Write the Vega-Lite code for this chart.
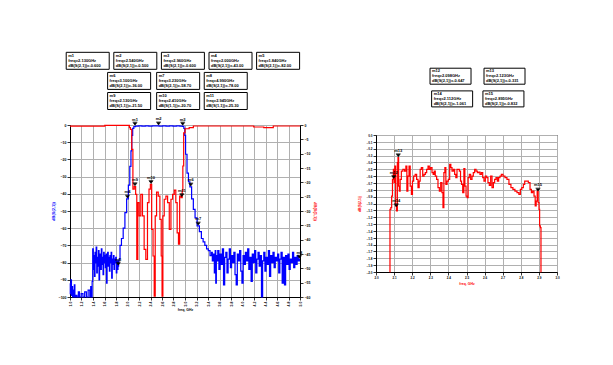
{
  "$schema": "https://vega.github.io/schema/vega-lite/v6.json",
  "background": "white",
  "padding": {"left": 50, "top": 50, "right": 5, "bottom": 5},
  "bounds": "flush",
  "spacing": 306,
  "config": {
    "font": "Liberation Sans",
    "view": {"stroke": "black", "strokeWidth": 1},
    "axis": {
      "gridColor": "#b0b0b0", "gridOpacity": 1, "gridWidth": 1,
      "domainColor": "black", "domainWidth": 1,
      "tickColor": "black", "tickWidth": 0.8, "tickSize": 3,
      "labelColor": "black", "labelFontSize": 3.5, "labelFontWeight": "bold", "labelPadding": 1,
      "labelOverlap": false, "labelFlush": false, "labelBound": false,
      "titleFontSize": 3.5, "titleFontWeight": "bold", "titleColor": "black"
    }
  },
  "datasets": {
    "s21": [
      {"f":1.00,"v":-92},{"f":1.01,"v":-98},{"f":1.02,"v":-90},{"f":1.03,"v":-99},{"f":1.04,"v":-94},{"f":1.05,"v":-100},{"f":1.06,"v":-96},{"f":1.07,"v":-100},{"f":1.08,"v":-93},{"f":1.09,"v":-100},{"f":1.11,"v":-99},{"f":1.13,"v":-100},{"f":1.16,"v":-97},{"f":1.17,"v":-100},{"f":1.22,"v":-98},{"f":1.23,"v":-100},{"f":1.28,"v":-97},{"f":1.29,"v":-100},{"f":1.34,"v":-96},{"f":1.35,"v":-100},{"f":1.37,"v":-94},{"f":1.38,"v":-100},{"f":1.39,"v":-91},
      {"f":1.40,"v":-72},{"f":1.41,"v":-84},{"f":1.42,"v":-76},{"f":1.43,"v":-88},{"f":1.44,"v":-74},{"f":1.45,"v":-80},{"f":1.46,"v":-71},{"f":1.47,"v":-86},{"f":1.48,"v":-77},{"f":1.49,"v":-82},{"f":1.50,"v":-73},{"f":1.51,"v":-90},{"f":1.52,"v":-79},{"f":1.53,"v":-75},{"f":1.54,"v":-84},{"f":1.55,"v":-72},{"f":1.56,"v":-81},{"f":1.57,"v":-77},{"f":1.58,"v":-87},{"f":1.59,"v":-74},{"f":1.60,"v":-80},{"f":1.61,"v":-76},{"f":1.62,"v":-83},{"f":1.63,"v":-75},{"f":1.64,"v":-92},{"f":1.65,"v":-78},{"f":1.66,"v":-74},{"f":1.67,"v":-82},{"f":1.68,"v":-77},{"f":1.69,"v":-85},{"f":1.70,"v":-76},{"f":1.71,"v":-80},{"f":1.72,"v":-74},{"f":1.73,"v":-89},{"f":1.74,"v":-78},{"f":1.75,"v":-81},{"f":1.76,"v":-76},{"f":1.77,"v":-84},{"f":1.78,"v":-78},{"f":1.79,"v":-80},{"f":1.80,"v":-77},{"f":1.81,"v":-86},{"f":1.82,"v":-79},{"f":1.83,"v":-84},{"f":1.84,"v":-82},{"f":1.85,"v":-79},
      {"f":1.86,"v":-78},{"f":1.88,"v":-70},{"f":1.91,"v":-66},{"f":1.94,"v":-60},{"f":1.97,"v":-51},{"f":2.00,"v":-43},{"f":2.03,"v":-35},{"f":2.05,"v":-24},{"f":2.07,"v":-15},{"f":2.08,"v":-6},{"f":2.10,"v":-2},{"f":2.12,"v":-0.9},
      {"f":2.16,"v":-0.6},{"f":2.22,"v":-0.5},{"f":2.28,"v":-0.6},{"f":2.34,"v":-0.5},{"f":2.40,"v":-0.6},{"f":2.46,"v":-0.5},{"f":2.52,"v":-0.5},{"f":2.58,"v":-0.6},{"f":2.64,"v":-0.5},{"f":2.70,"v":-0.6},{"f":2.76,"v":-0.5},{"f":2.82,"v":-0.6},{"f":2.88,"v":-0.5},{"f":2.94,"v":-0.6},{"f":2.97,"v":-0.8},
      {"f":2.99,"v":-2},{"f":3.00,"v":-6},{"f":3.02,"v":-17},{"f":3.05,"v":-28},{"f":3.07,"v":-33},{"f":3.10,"v":-36},{"f":3.13,"v":-43},{"f":3.16,"v":-49},{"f":3.19,"v":-54},{"f":3.23,"v":-58.7},{"f":3.27,"v":-62},{"f":3.30,"v":-66},{"f":3.33,"v":-68},{"f":3.36,"v":-70},{"f":3.39,"v":-72},{"f":3.42,"v":-73},{"f":3.45,"v":-76},{"f":3.47,"v":-74},{"f":3.48,"v":-79},{"f":3.50,"v":-75},{"f":3.52,"v":-86},{"f":3.53,"v":-73},{"f":3.54,"v":-92},{"f":3.55,"v":-76},
      {"f":3.56,"v":-79},{"f":3.58,"v":-73},{"f":3.60,"v":-84},{"f":3.62,"v":-75},{"f":3.64,"v":-81},{"f":3.66,"v":-72},{"f":3.68,"v":-93},{"f":3.70,"v":-77},{"f":3.72,"v":-74},{"f":3.74,"v":-86},{"f":3.76,"v":-78},{"f":3.78,"v":-72},{"f":3.80,"v":-83},{"f":3.82,"v":-76},{"f":3.84,"v":-80},{"f":3.86,"v":-74},{"f":3.88,"v":-87},{"f":3.90,"v":-93},{"f":3.92,"v":-75},{"f":3.94,"v":-79},{"f":3.96,"v":-73},{"f":3.98,"v":-85},{"f":4.00,"v":-92},{"f":4.02,"v":-76},{"f":4.04,"v":-81},{"f":4.06,"v":-74},{"f":4.08,"v":-79},{"f":4.10,"v":-72},{"f":4.12,"v":-84},{"f":4.14,"v":-77},{"f":4.16,"v":-91},{"f":4.18,"v":-75},{"f":4.20,"v":-80},{"f":4.22,"v":-73},{"f":4.24,"v":-86},{"f":4.26,"v":-78},{"f":4.28,"v":-74},{"f":4.30,"v":-82},{"f":4.32,"v":-76},{"f":4.34,"v":-100},{"f":4.36,"v":-79},{"f":4.38,"v":-74},{"f":4.40,"v":-85},{"f":4.42,"v":-77},{"f":4.44,"v":-81},{"f":4.46,"v":-73},{"f":4.48,"v":-88},{"f":4.50,"v":-76},{"f":4.52,"v":-80},{"f":4.54,"v":-74},{"f":4.56,"v":-83},{"f":4.58,"v":-77},{"f":4.60,"v":-79},{"f":4.62,"v":-75},{"f":4.64,"v":-86},{"f":4.66,"v":-78},{"f":4.68,"v":-74},{"f":4.70,"v":-92},{"f":4.72,"v":-77},{"f":4.74,"v":-93},{"f":4.76,"v":-76},{"f":4.78,"v":-81},{"f":4.80,"v":-75},{"f":4.82,"v":-84},{"f":4.84,"v":-78},{"f":4.86,"v":-80},{"f":4.88,"v":-74},{"f":4.90,"v":-83},{"f":4.92,"v":-77},{"f":4.94,"v":-81},{"f":4.96,"v":-76},{"f":4.98,"v":-79},{"f":5.00,"v":-78}
    ],
    "s11": [
      {"f":1.0,"v":-0.4},{"f":1.6,"v":-0.4},{"f":1.61,"v":-0.1},{"f":2.03,"v":-0.1},{"f":2.036,"v":-0.9},{"f":2.065,"v":-1.5},{"f":2.082,"v":-8.5},{"f":2.106,"v":-22.4},{"f":2.13,"v":-21.5},{"f":2.153,"v":-24.2},{"f":2.17,"v":-46.9},{"f":2.188,"v":-27.1},{"f":2.217,"v":-31.7},{"f":2.246,"v":-24.2},{"f":2.275,"v":-31.7},{"f":2.304,"v":-43.4},{"f":2.333,"v":-46.9},{"f":2.362,"v":-27.1},{"f":2.386,"v":-22.4},{"f":2.409,"v":-20.7},{"f":2.432,"v":-36.4},{"f":2.456,"v":-45.7},{"f":2.473,"v":-59.7},{"f":2.491,"v":-31.7},{"f":2.52,"v":-23.4},{"f":2.549,"v":-24.8},{"f":2.578,"v":-32.9},{"f":2.595,"v":-45.7},{"f":2.607,"v":-59.7},{"f":2.624,"v":-31.7},{"f":2.653,"v":-25.9},{"f":2.683,"v":-24.8},{"f":2.712,"v":-27.1},{"f":2.741,"v":-36.4},{"f":2.77,"v":-25.9},{"f":2.799,"v":-24.2},{"f":2.828,"v":-22.7},{"f":2.852,"v":-27.1},{"f":2.875,"v":-37.6},{"f":2.898,"v":-41.6},{"f":2.916,"v":-24.8},{"f":2.945,"v":-25.3},{"f":2.957,"v":-23.0},{"f":2.968,"v":-14.3},{"f":2.986,"v":-2.7},{"f":3.015,"v":-1.3},{"f":3.13,"v":-0.9},{"f":3.16,"v":-0.35},{"f":4.18,"v":-0.35},{"f":4.21,"v":-0.7},{"f":4.53,"v":-0.9},{"f":4.54,"v":-0.35},{"f":5.0,"v":-0.35}
    ],
    "mk21": [
      {"m":"m1","f":2.13,"v":-0.6},{"m":"m2","f":2.54,"v":-0.5},{"m":"m3","f":2.96,"v":-0.6},{"m":"m4","f":2.0,"v":-43},{"m":"m5","f":1.84,"v":-82},{"m":"m6","f":3.10,"v":-36},{"m":"m7","f":3.23,"v":-58.7},{"m":"m8","f":4.99,"v":-78}
    ],
    "mk11": [
      {"m":"m9","f":2.13,"v":-21.5},{"m":"m10","f":2.409,"v":-20.7},{"m":"m11","f":2.945,"v":-25.3}
    ],
    "s21z": [
      {"f":2.0755,"v":-2.0},{"f":2.079,"v":-1.085},{"f":2.085,"v":-1.061},{"f":2.088,"v":-0.891},{"f":2.094,"v":-0.647},{"f":2.098,"v":-0.501},{"f":2.101,"v":-0.696},{"f":2.107,"v":-0.453},{"f":2.110,"v":-1.036},{"f":2.116,"v":-1.109},{"f":2.120,"v":-0.404},{"f":2.123,"v":-0.331},{"f":2.127,"v":-0.745},{"f":2.131,"v":-0.818},{"f":2.136,"v":-0.647},{"f":2.144,"v":-0.526},{"f":2.153,"v":-0.501},{"f":2.162,"v":-0.526},{"f":2.168,"v":-0.453},{"f":2.173,"v":-0.818},{"f":2.179,"v":-0.599},{"f":2.186,"v":-0.453},{"f":2.192,"v":-0.745},{"f":2.199,"v":-0.866},{"f":2.204,"v":-0.672},{"f":2.212,"v":-0.599},{"f":2.221,"v":-0.574},{"f":2.228,"v":-0.647},{"f":2.236,"v":-0.769},{"f":2.241,"v":-0.672},{"f":2.247,"v":-0.501},{"f":2.254,"v":-0.477},{"f":2.262,"v":-0.599},{"f":2.269,"v":-0.574},{"f":2.276,"v":-0.550},{"f":2.284,"v":-0.501},{"f":2.291,"v":-0.453},{"f":2.298,"v":-0.501},{"f":2.306,"v":-0.477},{"f":2.313,"v":-0.550},{"f":2.319,"v":-0.574},{"f":2.324,"v":-0.526},{"f":2.331,"v":-0.599},{"f":2.339,"v":-0.647},{"f":2.346,"v":-0.769},{"f":2.354,"v":-0.818},{"f":2.361,"v":-0.696},{"f":2.368,"v":-0.842},{"f":2.372,"v":-1.061},{"f":2.378,"v":-0.550},{"f":2.383,"v":-0.477},{"f":2.389,"v":-0.720},{"f":2.396,"v":-0.672},{"f":2.403,"v":-0.647},{"f":2.411,"v":-0.428},{"f":2.416,"v":-0.477},{"f":2.424,"v":-0.526},{"f":2.431,"v":-0.501},{"f":2.438,"v":-0.574},{"f":2.444,"v":-0.623},{"f":2.451,"v":-0.501},{"f":2.457,"v":-0.501},{"f":2.464,"v":-0.526},{"f":2.470,"v":-0.672},{"f":2.475,"v":-0.720},{"f":2.483,"v":-0.842},{"f":2.488,"v":-0.491},{"f":2.494,"v":-0.745},{"f":2.501,"v":-0.891},{"f":2.506,"v":-0.915},{"f":2.512,"v":-0.623},{"f":2.519,"v":-0.574},{"f":2.527,"v":-0.647},{"f":2.534,"v":-0.599},{"f":2.541,"v":-0.550},{"f":2.549,"v":-0.501},{"f":2.556,"v":-0.526},{"f":2.564,"v":-0.550},{"f":2.571,"v":-0.540},{"f":2.578,"v":-0.574},{"f":2.586,"v":-0.550},{"f":2.593,"v":-0.623},{"f":2.600,"v":-0.672},{"f":2.608,"v":-0.599},{"f":2.615,"v":-0.623},{"f":2.622,"v":-0.696},{"f":2.630,"v":-0.735},{"f":2.637,"v":-0.599},{"f":2.645,"v":-0.769},{"f":2.652,"v":-0.696},{"f":2.659,"v":-0.647},{"f":2.667,"v":-0.623},{"f":2.674,"v":-0.672},{"f":2.681,"v":-0.623},{"f":2.689,"v":-0.599},{"f":2.696,"v":-0.574},{"f":2.707,"v":-0.599},{"f":2.718,"v":-0.623},{"f":2.729,"v":-0.647},{"f":2.740,"v":-0.720},{"f":2.751,"v":-0.769},{"f":2.762,"v":-0.793},{"f":2.773,"v":-0.818},{"f":2.785,"v":-0.842},{"f":2.794,"v":-0.866},{"f":2.801,"v":-0.793},{"f":2.810,"v":-0.769},{"f":2.818,"v":-0.720},{"f":2.825,"v":-0.672},{"f":2.836,"v":-0.672},{"f":2.847,"v":-0.696},{"f":2.855,"v":-0.793},{"f":2.862,"v":-0.842},{"f":2.869,"v":-0.818},{"f":2.877,"v":-0.891},{"f":2.882,"v":-1.036},{"f":2.888,"v":-0.964},{"f":2.893,"v":-0.818},{"f":2.899,"v":-0.988},{"f":2.902,"v":-1.085},{"f":2.906,"v":-1.328},{"f":2.910,"v":-1.353},{"f":2.913,"v":-2.0}
    ],
    "mkR": [
      {"m":"m12","f":2.098,"v":-0.647},{"m":"m13","f":2.123,"v":-0.331},{"m":"m14","f":2.112,"v":-1.061},{"m":"m15","f":2.895,"v":-0.832}
    ],
    "boxesL": [
      {"col":0,"row":0,"t":"m1\nfreq=2.130GHz\ndB(S(2,1))=-0.600"},
      {"col":1,"row":0,"t":"m2\nfreq=2.540GHz\ndB(S(2,1))=-0.500"},
      {"col":2,"row":0,"t":"m3\nfreq=2.960GHz\ndB(S(2,1))=-0.600"},
      {"col":3,"row":0,"t":"m4\nfreq=2.000GHz\ndB(S(2,1))=-43.00"},
      {"col":4,"row":0,"t":"m5\nfreq=1.840GHz\ndB(S(2,1))=-82.00"},
      {"col":0.87,"row":1,"t":"m6\nfreq=3.100GHz\ndB(S(2,1))=-36.00"},
      {"col":1.9,"row":1,"t":"m7\nfreq=3.230GHz\ndB(S(2,1))=-58.70"},
      {"col":2.9,"row":1,"t":"m8\nfreq=4.990GHz\ndB(S(2,1))=-78.00"},
      {"col":0.87,"row":2,"t":"m9\nfreq=2.130GHz\ndB(S(1,1))=-21.50"},
      {"col":1.9,"row":2,"t":"m10\nfreq=2.410GHz\ndB(S(1,1))=-20.70"},
      {"col":2.9,"row":2,"t":"m11\nfreq=2.945GHz\ndB(S(1,1))=-25.30"}
    ],
    "boxesR": [
      {"col":0,"row":0,"t":"m12\nfreq=2.098GHz\ndB(S(2,1))=-0.647"},
      {"col":1,"row":0,"t":"m13\nfreq=2.123GHz\ndB(S(2,1))=-0.331"},
      {"col":0.03,"row":1,"t":"m14\nfreq=2.112GHz\ndB(S(2,1))=-1.061"},
      {"col":0.98,"row":1,"t":"m15\nfreq=2.895GHz\ndB(S(2,1))=-0.832"}
    ]
  },
  "hconcat": [
    {
      "bounds": "flush",
      "spacing": 5,
      "vconcat": [
        {
          "width": 230, "height": 69,
          "view": {"stroke": null},
          "data": {"name": "boxesL"},
          "encoding": {
            "x": {"field": "col", "type": "quantitative", "scale": {"domain": [-0.372, 4.46], "nice": false, "zero": false}, "axis": null},
            "y": {"field": "row", "type": "quantitative", "scale": {"domain": [-0.488, 2.945], "nice": false, "zero": false, "reverse": true}, "axis": null}
          },
          "layer": [
            {"mark": {"type": "point", "shape": "M-1,-0.395L1,-0.395L1,0.395L-1,0.395Z", "size": 1849, "fill": "white", "stroke": "black", "strokeWidth": 1, "opacity": 1}},
            {"mark": {"type": "text", "align": "left", "baseline": "middle", "dx": -19.5, "dy": -5, "fontSize": 4, "fontWeight": "bold", "lineBreak": "\n", "lineHeight": 5, "color": "black"}, "encoding": {"text": {"field": "t"}}}
          ]
        },
        {
          "width": 230, "height": 172,
          "layer": [
            {
              "layer": [
                {
                  "data": {"name": "s21"},
                  "mark": {"type": "line", "color": "#0000ff", "strokeWidth": 1.2, "interpolate": "step"},
                  "encoding": {
                    "x": {"field": "f", "type": "quantitative", "scale": {"domain": [1, 5], "nice": false, "zero": false},
                          "axis": {"tickCount": 20, "format": ".1f", "labelAngle": -90, "grid": true, "title": "freq, GHz", "titlePadding": 2}},
                    "y": {"field": "v", "type": "quantitative", "scale": {"domain": [-100, 0], "nice": false, "zero": false},
                          "axis": {"orient": "left", "tickCount": 10, "grid": true, "title": "dB(S(2,1))", "titleColor": "#0000ff", "titleFontSize": 4, "titlePadding": 3}}
                  }
                },
                {
                  "data": {"name": "mk21"},
                  "mark": {"type": "point", "shape": "M-1.2,-2.2L1.2,-2.2L0,-0.6Z M-1.6,-2.6L1.6,-2.6", "size": 9, "filled": true, "fill": "black", "stroke": "black", "strokeWidth": 0.6, "opacity": 1},
                  "encoding": {
                    "x": {"field": "f", "type": "quantitative"},
                    "y": {"field": "v", "type": "quantitative"}
                  }
                },
                {
                  "data": {"name": "mk21"},
                  "mark": {"type": "text", "fontSize": 4, "fontWeight": "bold", "baseline": "bottom", "dy": -4.5, "color": "black"},
                  "encoding": {
                    "x": {"field": "f", "type": "quantitative"},
                    "y": {"field": "v", "type": "quantitative"},
                    "text": {"field": "m"}
                  }
                }
              ]
            },
            {
              "layer": [
                {
                  "data": {"name": "s11"},
                  "mark": {"type": "line", "color": "#ff0000", "strokeWidth": 1.2, "interpolate": "step"},
                  "encoding": {
                    "x": {"field": "f", "type": "quantitative"},
                    "y": {"field": "v", "type": "quantitative", "scale": {"domain": [-60, 0], "nice": false, "zero": false},
                          "axis": {"orient": "right", "tickCount": 12, "grid": false, "title": "dB(S(1,1))", "titleColor": "#ff0000", "titleFontSize": 4, "titlePadding": 3}}
                  }
                },
                {
                  "data": {"name": "mk11"},
                  "mark": {"type": "point", "shape": "M-1.2,-2.2L1.2,-2.2L0,-0.6Z M-1.6,-2.6L1.6,-2.6", "size": 9, "filled": true, "fill": "black", "stroke": "black", "strokeWidth": 0.6, "opacity": 1},
                  "encoding": {
                    "x": {"field": "f", "type": "quantitative"},
                    "y": {"field": "v", "type": "quantitative"}
                  }
                },
                {
                  "data": {"name": "mk11"},
                  "mark": {"type": "text", "fontSize": 4, "fontWeight": "bold", "baseline": "bottom", "dy": -4.5, "color": "black"},
                  "encoding": {
                    "x": {"field": "f", "type": "quantitative"},
                    "y": {"field": "v", "type": "quantitative"},
                    "text": {"field": "m"}
                  }
                }
              ]
            }
          ],
          "resolve": {"scale": {"y": "independent"}}
        }
      ]
    },
    {
      "bounds": "flush",
      "spacing": 5,
      "vconcat": [
        {
          "width": 181, "height": 79,
          "view": {"stroke": null},
          "data": {"name": "boxesR"},
          "encoding": {
            "x": {"field": "col", "type": "quantitative", "scale": {"domain": [-1.38, 1.972], "nice": false, "zero": false}, "axis": null},
            "y": {"field": "row", "type": "quantitative", "scale": {"domain": [-1.11, 2.37], "nice": false, "zero": false, "reverse": true}, "axis": null}
          },
          "layer": [
            {"mark": {"type": "point", "shape": "M-1,-0.39L1,-0.39L1,0.39L-1,0.39Z", "size": 1681, "fill": "white", "stroke": "black", "strokeWidth": 1, "opacity": 1}},
            {"mark": {"type": "text", "align": "left", "baseline": "middle", "dx": -18.5, "dy": -5, "fontSize": 4, "fontWeight": "bold", "lineBreak": "\n", "lineHeight": 5, "color": "black"}, "encoding": {"text": {"field": "t"}}}
          ]
        },
        {
          "width": 181, "height": 137,
          "layer": [
            {
              "data": {"name": "s21z"},
              "mark": {"type": "line", "color": "#ff0000", "strokeWidth": 1.2, "interpolate": "step"},
              "encoding": {
                "x": {"field": "f", "type": "quantitative", "scale": {"domain": [2, 3], "nice": false, "zero": false},
                      "axis": {"tickCount": 10, "format": ".1f", "labelFontSize": 3, "grid": true, "title": "freq, GHz", "titleColor": "#ff0000", "titlePadding": 2}},
                "y": {"field": "v", "type": "quantitative", "scale": {"domain": [-2, 0], "nice": false, "zero": false},
                      "axis": {"tickCount": 20, "format": ".1f", "labelFontSize": 3, "grid": true, "title": "dB(S(2,1))", "titleColor": "#ff0000", "titlePadding": 5}}
              }
            },
            {
              "data": {"name": "mkR"},
              "mark": {"type": "point", "shape": "M-1.2,-2.2L1.2,-2.2L0,-0.6Z M-1.6,-2.6L1.6,-2.6", "size": 9, "filled": true, "fill": "black", "stroke": "black", "strokeWidth": 0.6, "opacity": 1},
              "encoding": {
                "x": {"field": "f", "type": "quantitative"},
                "y": {"field": "v", "type": "quantitative"}
              }
            },
            {
              "data": {"name": "mkR"},
              "mark": {"type": "text", "fontSize": 4, "fontWeight": "bold", "baseline": "bottom", "dy": -4.5, "color": "black"},
              "encoding": {
                "x": {"field": "f", "type": "quantitative"},
                "y": {"field": "v", "type": "quantitative"},
                "text": {"field": "m"}
              }
            }
          ]
        }
      ]
    }
  ]
}
